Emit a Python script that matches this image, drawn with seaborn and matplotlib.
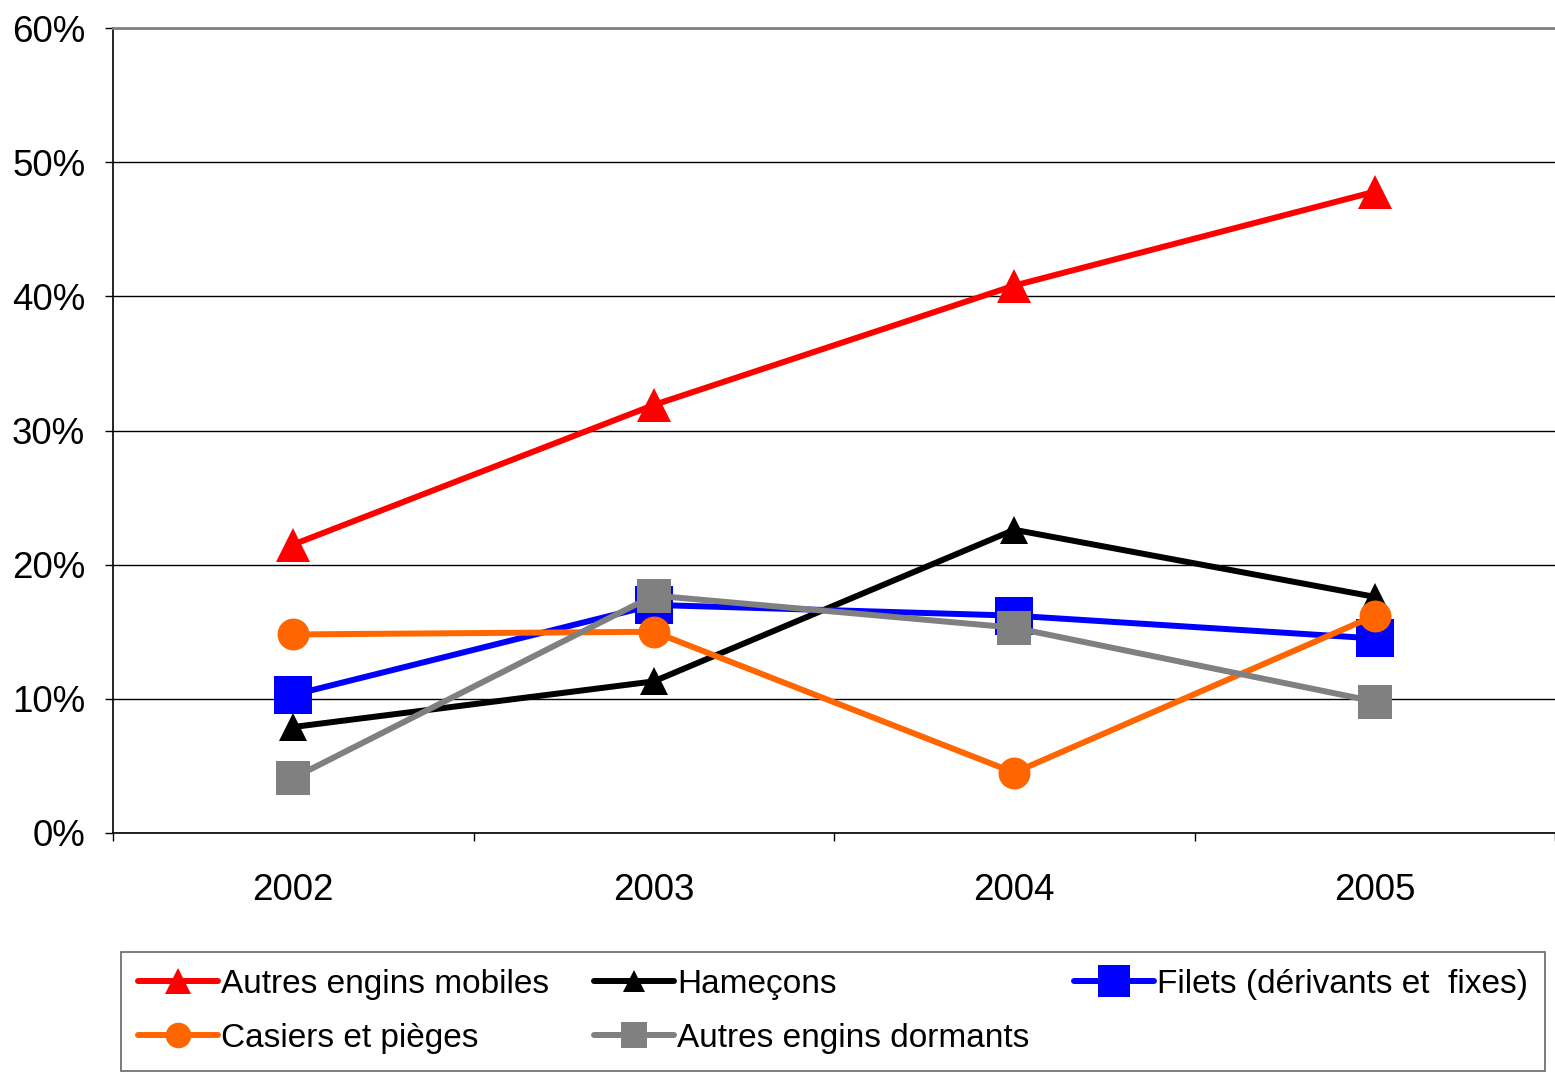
import pandas as pd
import matplotlib
matplotlib.use("Agg")
import matplotlib.pyplot as plt
import seaborn as sns
from matplotlib.ticker import PercentFormatter, FixedLocator

# valeurs (en %)
annees = ["2002", "2003", "2004", "2005"]
autres_mobiles = [21.5, 31.9, 40.8, 47.8]
hamecons = [7.9, 11.3, 22.6, 17.6]
filets = [10.3, 17.0, 16.2, 14.5]
casiers = [14.8, 15.0, 4.5, 16.2]
autres_dormants = [4.1, 17.7, 15.3, 9.8]

series = [
    ("Autres engins mobiles", autres_mobiles, "#FF0000", "^", 24),
    ("Hameçons", hamecons, "#000000", "^", 20),
    ("Filets (dérivants et  fixes)", filets, "#0000FF", "s", 28),
    ("Casiers et pièges", casiers, "#FF6600", "o", 23),
    ("Autres engins dormants", autres_dormants, "#808080", "s", 24),
]

sns.set_theme(style="white")
plt.rcParams['font.family'] = ['Liberation Sans', 'DejaVu Sans']
plt.rcParams['text.color'] = 'black'
plt.rcParams['xtick.color'] = 'black'
plt.rcParams['ytick.color'] = 'black'

fig = plt.figure(figsize=(15.55, 10.72), dpi=100)
ax = fig.add_axes([113 / 1555, 1 - 833 / 1072, 1 - 113 / 1555, (833 - 28) / 1072])

handles = {}
for nom, vals, couleur, marqueur, taille in series:
    df = pd.DataFrame({"annee": annees, "valeur": vals})
    sns.lineplot(data=df, x="annee", y="valeur", ax=ax, color=couleur,
                 marker=marqueur, markersize=taille, markeredgewidth=0,
                 linewidth=4.3, label=nom, legend=False)
    handles[nom] = ax.lines[-1]

ax.set_xlim(-0.5, 3.5)
ax.set_ylim(0, 60)
ax.set_yticks(range(0, 61, 10))
ax.yaxis.set_major_formatter(PercentFormatter(decimals=0))
ax.grid(axis="y", color="black", linewidth=1)
ax.set_axisbelow(True)

for s in ["left", "bottom"]:
    ax.spines[s].set_color("black")
    ax.spines[s].set_linewidth(1.2)
ax.spines["right"].set_visible(False)
ax.spines["top"].set_color("#808080")
ax.spines["top"].set_linewidth(2)

ax.xaxis.set_minor_locator(FixedLocator([-0.5, 0.5, 1.5, 2.5, 3.5]))
ax.tick_params(axis="x", which="major", length=0, pad=29, labelsize=26.5)
ax.tick_params(axis="x", which="minor", length=6, width=1, color="black", direction="out", bottom=True)
ax.tick_params(axis="y", length=6, width=1, color="black", direction="out", left=True, pad=14, labelsize=26.5)
ax.set_xlabel("")
ax.set_ylabel("")

ordre = ["Autres engins mobiles", "Casiers et pièges", "Hameçons",
         "Autres engins dormants", "Filets (dérivants et  fixes)"]
leg = fig.legend([handles[n] for n in ordre], ordre, ncol=3, loc="upper left",
                 bbox_to_anchor=(121 / 1555, 1 - 953 / 1072, (1545 - 121) / 1555, 0.001),
                 mode="expand", fontsize=24, frameon=True, fancybox=False,
                 edgecolor="#404040", handlelength=2.4, handletextpad=0.1,
                 labelspacing=0.7, borderpad=0.5, borderaxespad=0, markerscale=0.8)
leg.get_frame().set_linewidth(1.2)

fig.savefig("out.png", dpi=100)
